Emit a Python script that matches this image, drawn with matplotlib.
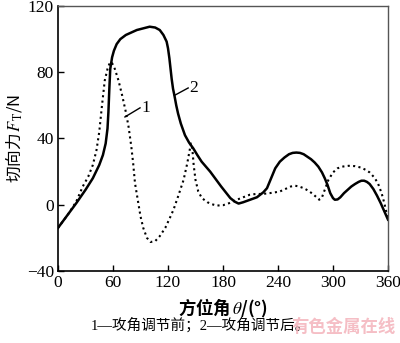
import matplotlib.pyplot as plt

plt.rcParams['font.family'] = ['Liberation Serif', 'Noto Sans CJK SC']
plt.rcParams['mathtext.fontset'] = 'stix'

# curve 2 (after adjustment), solid
theta2 = [0, 6, 12, 20, 30, 38, 45, 49, 52, 54, 55, 56, 57, 59, 61, 64, 68, 74, 80, 86,
          93, 100, 106, 111, 115, 118.5, 120, 121.5, 123, 124, 125.5, 127, 129, 131,
          134, 138.5, 143, 147.6, 152, 156.7, 166, 178, 188, 193, 197, 202, 207, 217,
          224, 228, 231, 234, 237, 242, 247, 252, 256, 260, 264, 268, 272, 276, 280,
          284, 288, 291, 294, 297, 300, 302, 305, 308, 312, 316, 320, 324, 328, 331,
          334, 337, 340, 344, 348, 352, 356, 358, 360]
force2 = [-14, -9.5, -5, 1, 9, 16, 24, 30, 37, 46, 56, 70, 82, 89, 93, 97, 100, 102.5, 104, 105.5,
          106.5, 107.5, 107, 105.5, 102.5, 98.5, 94.5, 88.5, 81, 76, 70, 66, 60, 55,
          49, 42, 37.5, 34, 30, 26, 20, 11, 4, 1.8, 0.7, 1.5, 2.5, 4.5,
          7.5, 10, 14, 18, 22, 26, 28.5, 30.5, 31.3, 31.5, 31.3, 30.5, 29, 27.5, 25.5,
          23, 19.5, 16, 12, 7, 4, 3, 3.2, 4.5, 7, 9, 11, 12.5, 13.8, 14.5,
          14.5, 13.8, 12.5, 9.5, 5.5, 1, -4, -6.5, -9]

# curve 1 (before adjustment), dotted
theta1 = [0, 6, 12, 20, 27, 33, 38, 42, 45, 48, 51, 54, 56.7, 59, 62, 66, 70, 74, 77,
          80, 82, 84, 87, 90, 93, 97, 101, 106, 111, 117, 122, 126, 131, 137, 141, 143,
          145, 146.5, 148, 150, 153, 157, 163, 168, 173, 180, 187, 195, 202, 209, 216,
          223, 231, 237, 242, 248, 254, 258.5, 263, 268, 273, 278, 282, 285, 288,
          291, 295, 300, 305, 310, 317, 324, 330, 336, 340, 345, 349, 353, 356, 358, 360]
force1 = [-14, -9.5, -5, 2, 11, 17, 24, 33, 44, 60, 75, 82, 86, 85.5, 82, 75, 66, 56, 47,
          35, 25, 13, 3, -7, -14, -20, -22.5, -22, -19, -14, -8, -3, 5, 15, 25, 31,
          37, 34, 24, 15, 8, 4, 1.5, 0.3, -0.5, -0.3, 1, 3, 4.5, 6, 6.5,
          6.5, 7, 7.5, 8, 9.5, 11, 11.5, 11, 10, 8.5, 6.5, 4.5, 3, 4.5,
          9, 15, 19.5, 22, 23, 23.5, 23.3, 22.5, 21, 19.5, 16.5, 13, 7, 1, -4, -8]

xticks = [0, 60, 120, 180, 240, 300, 360]
yticks = [-40, 0, 40, 80, 120]

fig = plt.figure(figsize=(4, 3.43), dpi=100)
ax = fig.add_axes([0.145, 0.21, 0.825, 0.7725])

ax.plot(theta2, force2, color='black', lw=1.8, solid_joinstyle='round')
ax.plot(theta1, force1, color='black', lw=1.5, linestyle=(0, (1, 1.6)))

ax.set_xlim(0, 360)
ax.set_ylim(-40, 120)
ax.set_xticks(xticks)
ax.set_yticks(yticks)
ax.tick_params(direction='in', length=4, width=1, labelsize=12.5, pad=3,
               top=False, right=False)
for s in ['left', 'bottom']:
    ax.spines[s].set_linewidth(1.2)
for s in ['top', 'right']:
    ax.spines[s].set_color('#555555')
    ax.spines[s].set_linewidth(1.0)

# curve labels with leader lines
ax.plot([73, 89.5], [53, 58.5], color='black', lw=1)
ax.text(91, 58.5, '1', fontsize=12.5, va='center', ha='left')
ax.plot([127, 142], [66, 70.5], color='black', lw=1)
ax.text(143.5, 70.5, '2', fontsize=12.5, va='center', ha='left')

# CJK parts need a CJK font as the text's own font (mathtext uses it for non-math text)
ax.set_ylabel('切向力$\\,F_\\mathrm{T}$/N', fontsize=12, labelpad=2,
              family='Noto Sans CJK SC')
ax.set_xlabel('方位角$\\,\\theta$/(°)', fontsize=12.5, fontweight='bold', labelpad=4,
              family='Noto Sans CJK SC')

fig.text(0.5, 0.052, '1—攻角调节前；2—攻角调节后。', fontsize=10.5,
         ha='center', va='center', family=['Liberation Serif', 'Noto Sans CJK SC'])
fig.text(0.86, 0.047, '有色金属在线', fontsize=12.5, color='#f4b3bb',
         ha='center', va='center', fontweight='bold', family='Noto Sans CJK SC',
         alpha=0.85)

fig.savefig('out.png', dpi=100)
